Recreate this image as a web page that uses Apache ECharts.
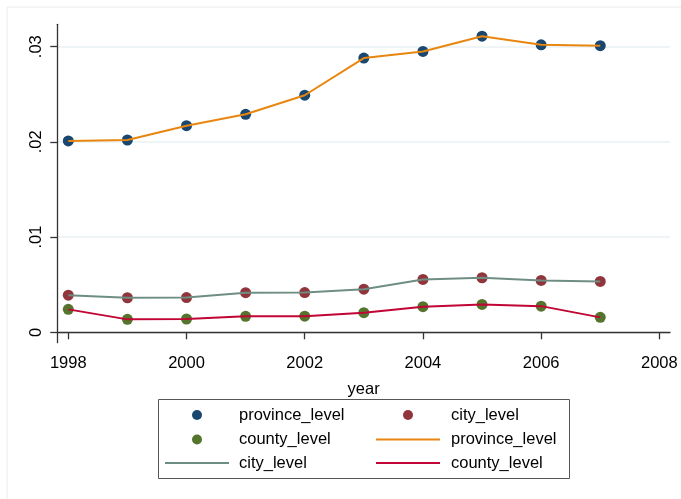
<!DOCTYPE html>
<html>
<head>
<meta charset="utf-8">
<script src="https://cdn.jsdelivr.net/npm/echarts@6/dist/echarts.min.js"></script>
<style>
  html, body { margin: 0; padding: 0; background: #fff; }
  #main { width: 681px; height: 499px; }
</style>
</head>
<body>
<div id="main"></div>
<script>
// data
var years = [1998, 1999, 2000, 2001, 2002, 2003, 2004, 2005, 2006, 2007];
var province = [0.0201, 0.0202, 0.0217, 0.0229, 0.0249, 0.0288, 0.0295, 0.0311, 0.0302, 0.0301];
var city = [0.0039, 0.00363, 0.00365, 0.00416, 0.00417, 0.00453, 0.00555, 0.00573, 0.00545, 0.00534];
var county = [0.00241, 0.00136, 0.0014, 0.00168, 0.00169, 0.00206, 0.00269, 0.00293, 0.00275, 0.00157];
var xTicks = [1998, 2000, 2002, 2004, 2006, 2008];
var yTicks = [0, 0.01, 0.02, 0.03];
var yTickLabels = ['0', '.01', '.02', '.03'];

var font = 'Liberation Sans, Arial, sans-serif';
var markerColors = ['#1a476f', '#90353b', '#55752f'];
var lineColors = ['#e8860f', '#6e8e84', '#c10534'];
var names = ['province_level', 'city_level', 'county_level'];
var allSeries = [province, city, county];

function pairs(vals) {
  return years.map(function (y, i) { return [y, vals[i]]; });
}

var myChart = echarts.init(document.getElementById('main'));

var series = [];
// markers first, lines drawn on top
allSeries.forEach(function (vals, i) {
  series.push({
    name: names[i],
    type: 'scatter',
    data: pairs(vals),
    symbol: 'circle',
    symbolSize: 11,
    itemStyle: { color: markerColors[i], opacity: 1 },
    silent: true
  });
});
allSeries.forEach(function (vals, i) {
  series.push({
    name: names[i],
    type: 'line',
    data: pairs(vals),
    symbol: 'none',
    lineStyle: { color: lineColors[i], width: 2 },
    silent: true
  });
});

// legend entries (key type, colour, label), two columns
var legendItems = [
  { kind: 'dot', color: markerColors[0], text: names[0] },
  { kind: 'dot', color: markerColors[1], text: names[1] },
  { kind: 'dot', color: markerColors[2], text: names[2] },
  { kind: 'line', color: lineColors[0], text: names[0] },
  { kind: 'line', color: lineColors[1], text: names[1] },
  { kind: 'line', color: lineColors[2], text: names[2] }
];

var graphics = [
  // faint outer frame
  { type: 'line', shape: { x1: 7, y1: 7, x2: 681, y2: 7 }, style: { stroke: '#ececec', lineWidth: 1 } },
  { type: 'line', shape: { x1: 7, y1: 7, x2: 7, y2: 499 }, style: { stroke: '#ececec', lineWidth: 1 } },
  // legend box
  { type: 'rect', shape: { x: 158.5, y: 399.5, width: 411, height: 79 }, style: { fill: '#fff', stroke: '#555', lineWidth: 1 } }
];
var rowsY = [415, 439.5, 463];
var colKeyX = [197, 408];
var colLineX = [[165, 229], [376, 440]];
var colTextX = [239, 451];
legendItems.forEach(function (it, k) {
  var row = Math.floor(k / 2), col = k % 2;
  var y = rowsY[row];
  if (it.kind === 'dot') {
    graphics.push({ type: 'circle', shape: { cx: colKeyX[col], cy: y, r: 5 }, style: { fill: it.color } });
  } else {
    graphics.push({ type: 'line', shape: { x1: colLineX[col][0], y1: y, x2: colLineX[col][1], y2: y }, style: { stroke: it.color, lineWidth: 2 } });
  }
  graphics.push({
    type: 'text', x: colTextX[col], y: y,
    style: { text: it.text, font: '16.5px ' + font, fill: '#000', verticalAlign: 'middle', align: 'left' }
  });
});

var option = {
  backgroundColor: '#fff',
  animation: false,
  grid: { left: 57.3, right: 11, top: 24.3, bottom: 156.3, containLabel: false },
  xAxis: {
    type: 'value',
    min: 1997.814,
    max: 2008.18,
    name: 'year',
    nameLocation: 'middle',
    nameGap: 38,
    nameTextStyle: { fontFamily: font, fontSize: 16.5, color: '#000' },
    axisLine: { show: true, lineStyle: { color: '#333', width: 1.3 } },
    axisTick: { show: true, length: 7, customValues: xTicks, lineStyle: { color: '#333', width: 1.3 } },
    axisLabel: {
      customValues: xTicks, margin: 12, fontFamily: font, fontSize: 16.5, color: '#000',
      formatter: function (v) { return String(Math.round(v)); }
    },
    splitLine: { show: false }
  },
  yAxis: {
    type: 'value',
    min: -0.00109,
    max: 0.03235,
    axisLine: { show: true, lineStyle: { color: '#333', width: 1.3 } },
    axisTick: { show: true, length: 7, customValues: yTicks, lineStyle: { color: '#333', width: 1.3 } },
    axisLabel: {
      customValues: yTicks,
      rotate: 90,
      margin: 12,
      fontFamily: font,
      fontSize: 16.5,
      color: '#000',
      formatter: function (v) {
        var idx = yTicks.findIndex(function (t) { return Math.abs(t - v) < 1e-9; });
        return idx >= 0 ? yTickLabels[idx] : '';
      }
    },
    splitLine: { show: true, lineStyle: { color: '#eaf2f3', width: 1.5 } }
  },
  graphic: graphics,
  series: series
};

myChart.setOption(option);
</script>
</body>
</html>
